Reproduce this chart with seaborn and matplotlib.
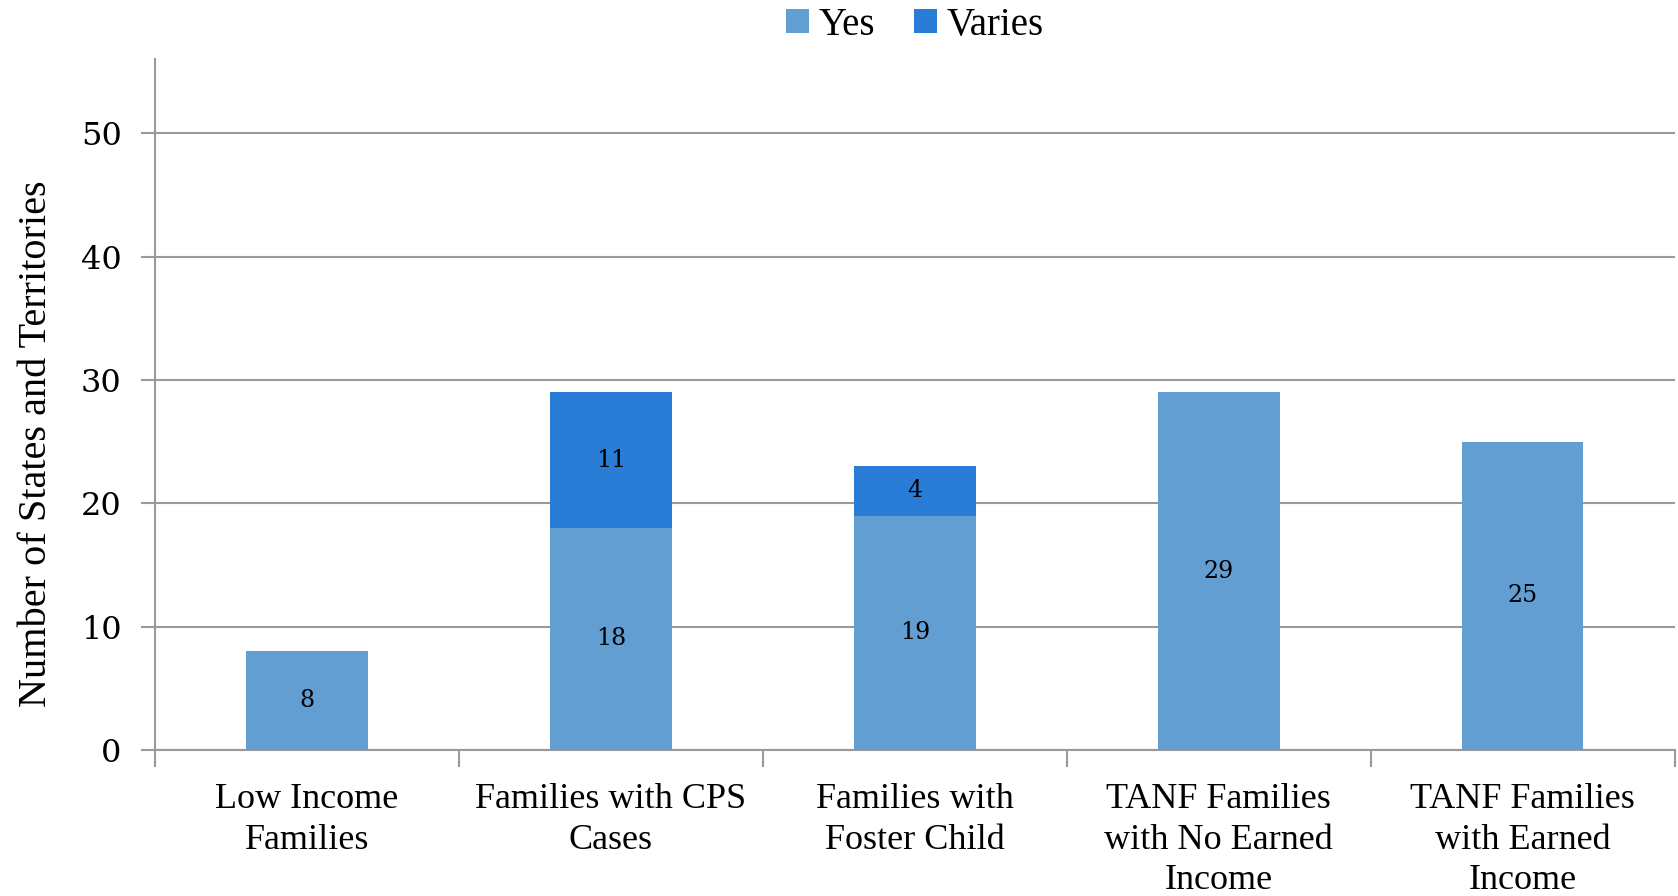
import pandas as pd
import seaborn as sns
import matplotlib.pyplot as plt

categories = ["Low Income\nFamilies", "Families with CPS\nCases", "Families with\nFoster Child",
              "TANF Families\nwith No Earned\nIncome", "TANF Families\nwith Earned\nIncome"]
yes = [8, 18, 19, 29, 25]
varies = [0, 11, 4, 0, 0]

yes_color = "#629ED2"
varies_color = "#2A7DD6"
grid_color = "#9A9A9A"

df = pd.DataFrame({"category": categories, "Yes": yes, "Varies": varies})
df["Total"] = df["Yes"] + df["Varies"]

sns.set_style("white")
plt.rcParams["font.family"] = ["Liberation Serif", "DejaVu Serif"]
plt.rcParams["text.color"] = "black"
plt.rcParams["axes.labelcolor"] = "black"
plt.rcParams["xtick.labelcolor"] = "black"
plt.rcParams["ytick.labelcolor"] = "black"

fig = plt.figure(figsize=(16.78, 8.96), dpi=100)
ax = fig.add_axes([0.0924, 0.163, 0.9056, 0.771])

# stacked bars: total drawn first in "Varies" colour, then "Yes" on top of it
sns.barplot(data=df, x="category", y="Total", color=varies_color, saturation=1,
            width=0.4, ax=ax, label="Varies", zorder=3)
sns.barplot(data=df, x="category", y="Yes", color=yes_color, saturation=1,
            width=0.4, ax=ax, label="Yes", zorder=3)

for c in ax.containers:
    for p in c:
        p.set_edgecolor("none")

ax.bar_label(ax.containers[1], labels=[str(v) for v in yes], label_type="center",
             fontsize=17, family="DejaVu Serif", color="black")
for i, (y, v) in enumerate(zip(yes, varies)):
    if v:
        ax.text(i, y + v / 2, str(v), ha="center", va="center", fontsize=17,
                family="DejaVu Serif", color="black", zorder=4)

ax.set_ylim(0, 56)
ax.set_xlim(-0.5, 4.5)
ax.set_yticks(range(0, 51, 10))
ax.yaxis.grid(True, color=grid_color, linewidth=1.5, zorder=0)
ax.set_axisbelow(True)

for lab in ax.get_yticklabels():
    lab.set_family("DejaVu Serif")
ax.tick_params(axis="y", which="major", length=10, width=1.5, color=grid_color,
               labelsize=23, pad=14, left=True)
ax.set_xticks([i + 0.5 for i in range(-1, 5)], minor=True)
ax.tick_params(axis="x", which="minor", length=12, width=1.5, color=grid_color, bottom=True)
ax.tick_params(axis="x", which="major", length=0, labelsize=26, pad=24)
for lab in ax.get_xticklabels():
    lab.set_linespacing(1.3)

ax.set_xlabel("")
ax.set_ylabel("Number of States and Territories", fontsize=29)
ax.yaxis.set_label_coords(-0.066, 0.443)

for s in ["top", "right"]:
    ax.spines[s].set_visible(False)
for s in ["left", "bottom"]:
    ax.spines[s].set_color(grid_color)
    ax.spines[s].set_linewidth(1.5)

handles, labels = ax.get_legend_handles_labels()
order = [labels.index("Yes"), labels.index("Varies")]
ax.legend([handles[i] for i in order], [labels[i] for i in order], loc="lower center",
          bbox_to_anchor=(0.5, 1.0), ncol=2, frameon=False, fontsize=28,
          handlelength=0.6, handleheight=0.6, handletextpad=0.25, columnspacing=1.0,
          borderaxespad=0)

fig.savefig("out.png", dpi=100)
